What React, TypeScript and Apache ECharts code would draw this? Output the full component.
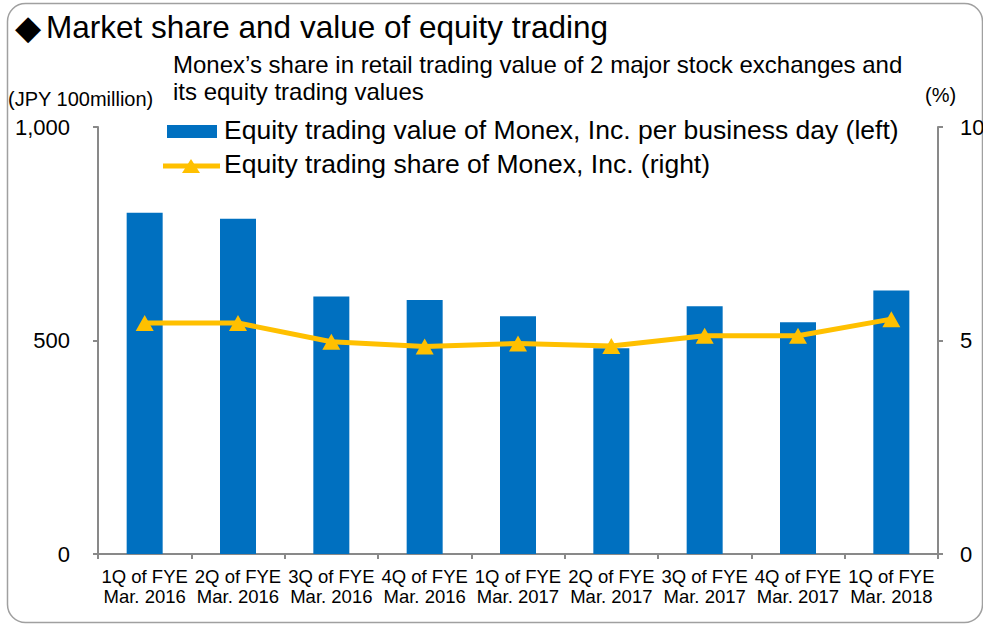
import React, { useEffect, useRef } from "react";
import * as echarts from "echarts";

const categories = [
  "1Q of FYE\nMar. 2016",
  "2Q of FYE\nMar. 2016",
  "3Q of FYE\nMar. 2016",
  "4Q of FYE\nMar. 2016",
  "1Q of FYE\nMar. 2017",
  "2Q of FYE\nMar. 2017",
  "3Q of FYE\nMar. 2017",
  "4Q of FYE\nMar. 2017",
  "1Q of FYE\nMar. 2018",
];
const tradingValue = [799, 785, 603, 595, 557, 482, 580, 543, 617];
const tradingShare = [5.41, 5.41, 4.97, 4.86, 4.93, 4.87, 5.11, 5.11, 5.5];
const seriesNames = [
  "Equity trading value of Monex, Inc. per business day (left)",
  "Equity trading share of Monex, Inc. (right)",
];
const titleMark = "◆";
const titleText = "Market share and value of equity trading";
const subtitleLines = [
  "Monex\u2019s share in retail trading value of 2 major stock exchanges and",
  "its equity trading values",
];
const leftUnit = "(JPY 100million)";
const rightUnit = "(%)";
const leftAxisRange = { min: 0, max: 1000, interval: 500 };
const rightAxisRange = { min: 0, max: 10, interval: 5 };

const FONT = "'Liberation Sans', Arial, sans-serif";
const BLUE = "#0070C0";
const YELLOW = "#FFC000";
const AXIS = "#898989";

export default function App() {
  const ref = useRef<HTMLDivElement>(null);
  useEffect(() => {
    if (!ref.current) return;
    const chart = echarts.init(ref.current, null, { renderer: "svg" });
    const text = (
      x: number,
      y: number,
      t: string,
      size: number,
      family = FONT
    ) => ({
      type: "text",
      x,
      y,
      silent: true,
      style: {
        text: t,
        fontFamily: family,
        fontSize: size,
        fill: "#000",
        align: "left",
        verticalAlign: "middle",
      },
    });
    chart.setOption({
      animation: false,
      backgroundColor: "#fff",
      textStyle: { fontFamily: FONT },
      grid: {
        left: 98,
        right: 45,
        top: 127,
        bottom: 71,
        containLabel: false,
        outerBoundsMode: "none",
      },
      xAxis: {
        type: "category",
        data: categories,
        axisLine: { show: true, lineStyle: { color: AXIS, width: 2 } },
        axisTick: { show: true, length: 5, lineStyle: { color: AXIS, width: 2 } },
        axisLabel: {
          color: "#000",
          fontFamily: FONT,
          fontSize: 18.5,
          lineHeight: 20,
          margin: 12,
          interval: 0,
        },
      },
      yAxis: [
        {
          type: "value",
          ...leftAxisRange,
          position: "left",
          splitLine: { show: false },
          axisLine: { show: true, lineStyle: { color: AXIS, width: 2 } },
          axisTick: { show: true, length: 5, lineStyle: { color: AXIS, width: 2 } },
          axisLabel: {
            color: "#000",
            fontFamily: FONT,
            fontSize: 22,
            margin: 28,
            formatter: (v: number) => v.toLocaleString("en-US"),
          },
        },
        {
          type: "value",
          ...rightAxisRange,
          position: "right",
          splitLine: { show: false },
          axisLine: { show: true, lineStyle: { color: AXIS, width: 2 } },
          axisTick: { show: true, length: 5, lineStyle: { color: AXIS, width: 2 } },
          axisLabel: {
            color: "#000",
            fontFamily: FONT,
            fontSize: 22,
            margin: 22,
          },
        },
      ],
      series: [
        {
          name: seriesNames[0],
          type: "bar",
          data: tradingValue,
          yAxisIndex: 0,
          barWidth: 36,
          itemStyle: { color: BLUE },
          z: 2,
        },
        {
          name: seriesNames[1],
          type: "line",
          data: tradingShare,
          yAxisIndex: 1,
          symbol: "triangle",
          symbolSize: [18, 16],
          lineStyle: { color: YELLOW, width: 5 },
          itemStyle: { color: YELLOW },
          z: 5,
        },
      ],
      graphic: [
        {
          type: "rect",
          silent: true,
          shape: { x: 7.5, y: 3.5, width: 975, height: 619, r: 18 },
          style: { fill: "none", stroke: "#A0A0A0", lineWidth: 1.5 },
        },
        text(15, 27, titleMark, 34, "'DejaVu Sans', sans-serif"),
        text(46, 26.5, titleText, 31.5),
        text(173, 64.4, subtitleLines[0], 24),
        text(173, 91.7, subtitleLines[1], 24),
        text(8, 99, leftUnit, 20),
        text(925, 95, rightUnit, 20),
        {
          type: "rect",
          silent: true,
          shape: { x: 167, y: 125, width: 50, height: 13 },
          style: { fill: BLUE },
        },
        text(224, 130.2, seriesNames[0], 26.5),
        {
          type: "line",
          silent: true,
          shape: { x1: 163, y1: 166, x2: 220, y2: 166 },
          style: { stroke: YELLOW, lineWidth: 5 },
        },
        {
          type: "polygon",
          silent: true,
          shape: { points: [[182, 173], [191, 159], [200, 173]] },
          style: { fill: YELLOW },
        },
        text(224, 164.2, seriesNames[1], 26.5),
      ],
    });
    return () => chart.dispose();
  }, []);
  return (
    <div
      ref={ref}
      style={{ position: "absolute", left: 0, top: 0, width: 983, height: 625 }}
    />
  );
}
